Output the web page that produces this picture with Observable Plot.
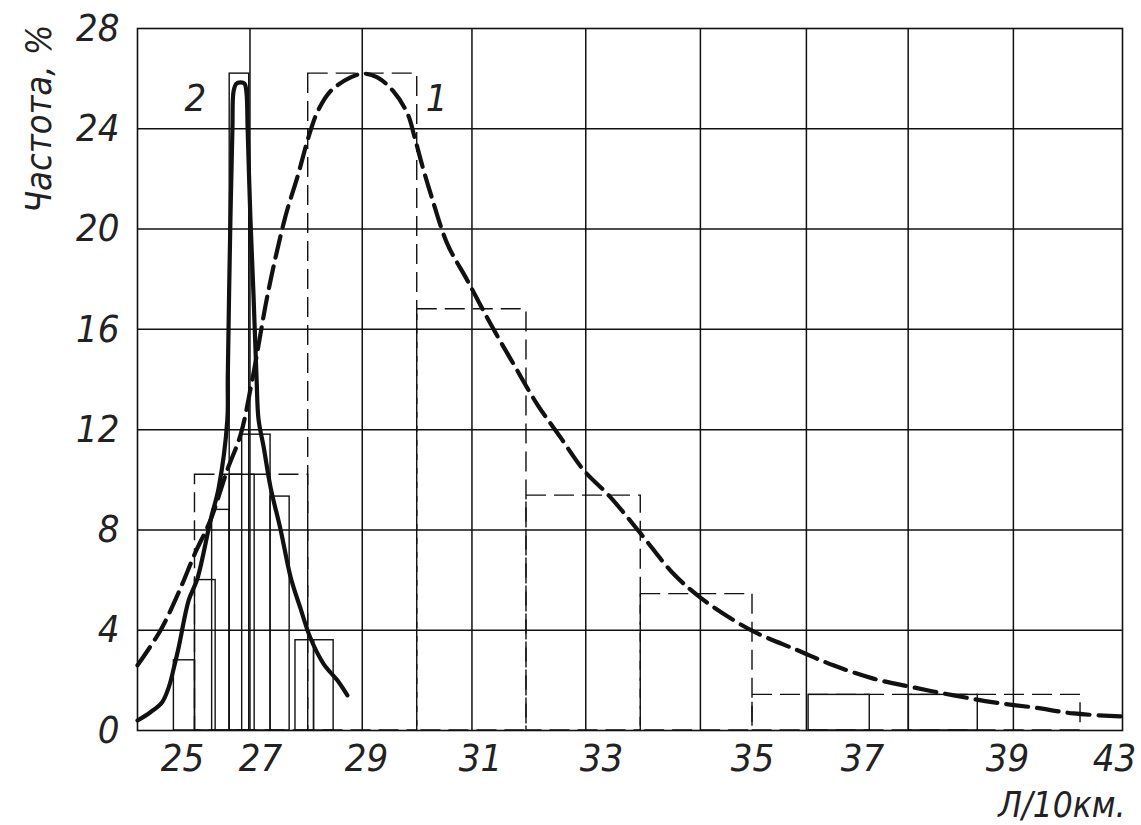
<!DOCTYPE html>
<html>
<head>
<meta charset="utf-8">
<script src="https://cdn.jsdelivr.net/npm/d3@7"></script>
<script src="https://cdn.jsdelivr.net/npm/@observablehq/plot@0.6"></script>
<style>
  html, body { margin: 0; padding: 0; background: #fff; }
</style>
</head>
<body>
<div id="chart"></div>
<script>
// ---------- data ----------
// x-axis tick labels: Л, in units of 10 km (hand-drawn, non-uniform axis)
const xTicks = [25, 27, 29, 31, 33, 35, 37, 39, 43];
// y-axis tick labels: frequency, %
const yTicks = [0, 4, 8, 12, 16, 20, 24, 28];
// Л at the vertical grid lines, and frequency at the horizontal ones
const gridX = [26.73, 28.92, 30.85, 32.74, 34.31, 35.98, 37.63, 39.22];
const gridY = [4, 8, 12, 16, 20, 24];

// Histogram 1 (dashed outline)
const h1From = [25.32, 27.90, 29.89, 31.76, 33.52, 35.00];
const h1To   = [27.90, 29.89, 31.76, 33.52, 35.00, 41.73];
const h1Freq = [10.2, 26.2, 16.8, 9.37, 5.44, 1.42];

// Histogram 2 (solid outline)
const h2From = [24.78, 25.32, 25.76, 26.21, 26.21, 26.53, 27.19, 27.66, 28.01, 36.02, 37.64];
const h2To   = [25.32, 25.85, 26.21, 26.85, 26.71, 27.19, 27.55, 28.01, 28.38, 37.10, 38.59];
const h2Freq = [2.8, 6.0, 8.8, 10.2, 26.2, 11.8, 9.33, 3.6, 3.6, 1.42, 1.42];

// Curve 1 (dashed)
const c1L = [23.85, 24.44, 24.90, 25.33, 25.72, 26.15, 26.49, 26.79, 27.15, 27.47, 27.70, 27.91,
             28.08, 28.32, 28.70, 28.94, 29.19, 29.47, 29.72, 29.84, 29.97, 30.14, 30.42, 30.77,
             31.17, 31.55, 31.94, 32.32, 32.70, 33.12, 33.52, 33.95, 34.31, 34.75, 35.09, 35.82,
             36.47, 37.15, 37.70, 38.26, 38.81, 39.97, 41.47, 43.30];
const c1F = [2.6, 4.0, 5.5, 7.1, 8.4, 10.4, 11.8, 14.0, 17.55, 20.5, 22.1, 23.7,
             24.7, 25.5, 26.05, 26.2, 26.05, 25.5, 24.6, 23.7, 22.6, 21.3, 19.4, 17.95,
             16.2, 14.6, 13.0, 11.7, 10.4, 9.3, 7.85, 6.26, 5.3, 4.4, 3.87, 3.2,
             2.6, 2.07, 1.72, 1.4, 1.12, 0.92, 0.68, 0.56];

// Curve 2 (solid)
const c2L = [23.85, 24.18, 24.48, 24.65, 24.78, 24.90, 25.16, 25.38, 25.72, 25.93, 26.15, 26.16,
             26.23, 26.28, 26.31, 26.38, 26.49, 26.59, 26.64, 26.67, 26.74, 26.82, 26.90, 26.95,
             27.06, 27.19, 27.38, 27.57, 27.75, 27.94, 28.19, 28.45, 28.64];
const c2F = [0.4, 0.73, 1.13, 1.73, 2.5, 3.3, 5.2, 6.05, 8.4, 9.7, 12.4, 14.0,
             20.5, 24.0, 25.5, 25.8, 25.85, 25.8, 25.45, 24.0, 20.5, 17.4, 14.0, 12.4,
             11.3, 9.7, 8.0, 6.1, 4.9, 3.7, 2.66, 2.0, 1.4];

// curve numbers
const curveNames = ["1", "2"];
const curveNameL = [30.23, 25.33];
const curveNameF = [25.2, 25.2];

const yTitle = "Частота, %";
const xTitle = "Л/10км.";

// ---------- layout of the hand-drawn x axis ----------
// Л values at the frame edges and tick labels, and where they sit horizontally (px)
const xKnots  = [23.85, ...xTicks, 43.3];
const xKnotPx = [137, 182, 260, 366, 480, 601, 752, 862, 1007, 1114, 1122];

// ---------- tables ----------
const h1 = h1From.map((d, i) => ({from: d, to: h1To[i], f: h1Freq[i]}));
const h2 = h2From.map((d, i) => ({from: d, to: h2To[i], f: h2Freq[i]}));
const c1 = c1L.map((d, i) => ({l: d, f: c1F[i]}));
const c2 = c2L.map((d, i) => ({l: d, f: c2F[i]}));
const names = curveNames.map((d, i) => ({name: d, l: curveNameL[i], f: curveNameF[i]}));

const ink = "#111";
const font = '"Liberation Sans Narrow", "DejaVu Sans Condensed", "Liberation Sans", sans-serif';

const chart = Plot.plot({
  width: 1141,
  height: 825,
  marginLeft: 137,
  marginRight: 19,
  marginTop: 28,
  marginBottom: 95,
  style: {fontFamily: font, fontStyle: "italic", background: "#fff", color: "#222"},
  x: {type: "linear", domain: xKnots, range: xKnotPx},
  y: {domain: [0, 28]},
  marks: [
    Plot.ruleX(gridX, {stroke: ink, strokeWidth: 1.5}),
    Plot.ruleY(gridY, {stroke: ink, strokeWidth: 1.5}),
    Plot.rect(h2, {x1: "from", x2: "to", y1: 0, y2: "f", fill: "none", stroke: ink, strokeWidth: 1.4}),
    Plot.rect(h1, {x1: "from", x2: "to", y1: 0, y2: "f", fill: "none", stroke: ink, strokeWidth: 1.4, strokeDasharray: "20,8"}),
    Plot.line(c1, {x: "l", y: "f", stroke: ink, strokeWidth: 4.2, strokeDasharray: "22,9", curve: "catmull-rom"}),
    Plot.line(c2, {x: "l", y: "f", stroke: ink, strokeWidth: 4.2, curve: "catmull-rom", strokeLinejoin: "round", strokeLinecap: "round"}),
    Plot.frame({stroke: ink, strokeWidth: 1.6}),
    Plot.axisX({ticks: xTicks, tickSize: 0, tickPadding: 14, fontSize: 38, label: null, fill: "#222"}),
    Plot.axisY({ticks: yTicks, tickSize: 0, tickPadding: 18, fontSize: 38, label: null, fill: "#222"}),
    Plot.text(names, {x: "l", y: "f", text: "name", fontSize: 38, fill: "#222"}),
    Plot.text([yTitle], {frameAnchor: "top-left", rotate: -90, textAnchor: "end", dx: -112, dy: -4, fontSize: 36, fill: "#222"}),
    Plot.text([xTitle], {frameAnchor: "bottom-right", textAnchor: "end", lineAnchor: "bottom", dx: 3, dy: 86, fontSize: 35, fill: "#222"})
  ]
});
document.getElementById("chart").append(chart);
</script>
</body>
</html>
